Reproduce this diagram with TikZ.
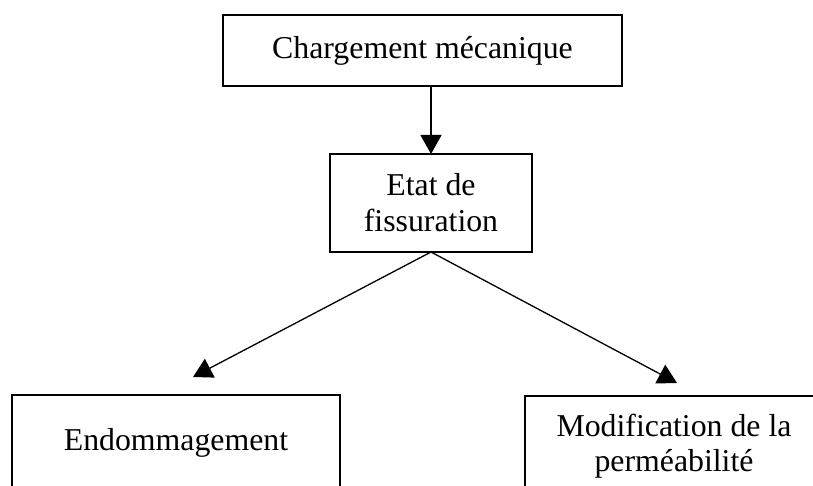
\documentclass[tikz,border=0pt]{standalone}
\usepackage{fontspec}
\setmainfont{Liberation Serif}
\usetikzlibrary{arrows.meta}
\begin{document}
\begin{tikzpicture}[x=1pt,y=-1pt,
  box/.style={draw,line width=1.3pt,inner sep=0pt,outer sep=0pt,anchor=north west,align=center,font=\fontsize{31.8}{36}\selectfont},
  txt/.style={inner sep=0pt,outer sep=0pt,align=center,font=\fontsize{31.8}{35}\selectfont},
  conn/.style={line width=1.3pt,-{Triangle[length=19pt,width=21pt]}}]
\useasboundingbox (0,0) rectangle (813,486);
\clip (0,0) rectangle (813,486);
\node[box,minimum width=399pt,minimum height=71pt] (top) at (223,15) {Chargement mécanique};
\node[box,minimum width=202pt,minimum height=98pt] (fis) at (330,154) {Etat de\\fissuration};
\node[box,minimum width=328pt,minimum height=140pt] (endo) at (12,395) {};
\node[box,minimum width=298pt,minimum height=140pt] (perm) at (525,396) {};
\node[txt,anchor=base] (endot) at (176,450) {Endommagement};
\node[txt,anchor=north] (permt) at (674,414.3) {Modification de la\\perméabilité};
\coordinate (lt) at (193,377);
\coordinate (rt) at (677,383);
\draw[conn] (top.south -| fis.north) -- (fis.north);
\draw[conn] (fis.south) -- (lt);
\draw[conn] (fis.south) -- (rt);
\end{tikzpicture}
\end{document}
